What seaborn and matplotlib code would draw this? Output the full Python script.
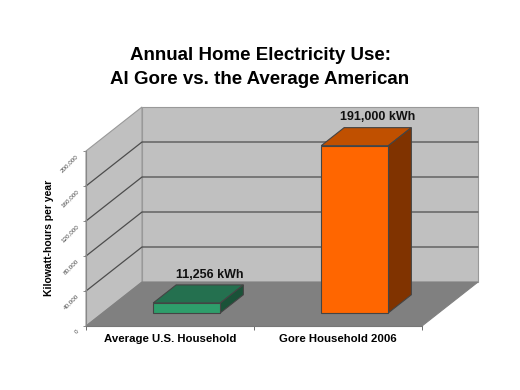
import matplotlib
matplotlib.use('Agg')
import matplotlib.pyplot as plt
import seaborn as sns
from matplotlib.patches import Polygon
from matplotlib.transforms import Affine2D

sns.set_theme(style='white')
plt.rcParams['font.family'] = ['Liberation Sans', 'DejaVu Sans']

categories = ['Average U.S. Household', 'Gore Household 2006']
kwh = [11256, 191000]
bar_labels = ['11,256 kWh', '191,000 kWh']
y_ticks = [0, 40000, 80000, 120000, 160000, 200000]
y_tick_labels = ['0', '40,000', '80,000', '120,000', '160,000', '200,000']

front_colors = ['#2e9e6b', '#ff6600']
top_colors = ['#24704f', '#c05000']
side_colors = ['#1a5238', '#803300']

W, H = 520, 390
fig = plt.figure(figsize=(W / 100, H / 100), dpi=100, facecolor='white')
# axes = the front plane of the fake 3d box
ax = fig.add_axes([86 / W, (H - 326) / H, 336 / W, 175 / H])
ax.patch.set_visible(False)


# depth goes from 0 (front) to 1 (back wall), shift is in data units
def dx(d):
    return d * 56 / 336 * 2


def dy(d):
    return d * 44 / 175 * 200000


def poly(pts, color, edge='#555555', lw=0.8, z=1):
    ax.add_patch(Polygon(pts, closed=True, facecolor=color, edgecolor=edge, linewidth=lw,
                         zorder=z, clip_on=False))


x0, x1 = -0.5, 1.5
top = y_ticks[-1]

# walls and floor
poly([(x0, 0), (x0, top), (x0 + dx(1), top + dy(1)), (x0 + dx(1), dy(1))], '#c0c0c0', '#999999')
poly([(x0 + dx(1), dy(1)), (x0 + dx(1), top + dy(1)), (x1 + dx(1), top + dy(1)), (x1 + dx(1), dy(1))],
     '#c0c0c0', '#999999')
poly([(x0, 0), (x1, 0), (x1 + dx(1), dy(1)), (x0 + dx(1), dy(1))], '#808080', '#808080')

# gridlines on left wall and back wall, the top one is just the wall edge
for t in y_ticks[1:-1]:
    ax.plot([x0, x0 + dx(1), x1 + dx(1)], [t, t + dy(1), t + dy(1)], color='#4d4d4d', lw=0.9,
            zorder=2, clip_on=False)

sns.barplot(x=categories, y=kwh, hue=categories, palette=front_colors, saturation=1, width=0.4,
            legend=False, edgecolor='#444444', linewidth=0.8, zorder=5, ax=ax)

ax.set_xlim(x0, x1)
ax.set_ylim(0, top)

# move bars back off the front edge and add top and side faces
front_d = 0.3
depth = 0.41
for i, cont in enumerate(ax.containers):
    bar = cont[0]
    bar.set_x(bar.get_x() + dx(front_d))
    bar.set_y(dy(front_d))
    bar.set_clip_on(False)
    l, r = bar.get_x(), bar.get_x() + bar.get_width()
    b, t = bar.get_y(), bar.get_y() + bar.get_height()
    poly([(l, t), (r, t), (r + dx(depth), t + dy(depth)), (l + dx(depth), t + dy(depth))],
         top_colors[i], '#444444', z=4)
    poly([(r, b), (r, t), (r + dx(depth), t + dy(depth)), (r + dx(depth), b + dy(depth))],
         side_colors[i], '#444444', z=4)
    ax.annotate(bar_labels[i], xy=((l + r) / 2 + dx(depth), t + dy(depth)), xytext=(0, 3),
                textcoords='offset points', ha='center', va='bottom', fontsize=9, fontweight='bold',
                color='#111111', zorder=6, annotation_clip=False)

sns.despine(ax=ax, top=True, right=True)
ax.spines['left'].set_color('#888888')
ax.spines['bottom'].set_color('#777777')
for s in ['left', 'bottom']:
    ax.spines[s].set_linewidth(0.8)
    ax.spines[s].set_zorder(3)

ax.set_yticks(y_ticks)
ax.set_yticklabels(y_tick_labels, rotation=45, rotation_mode='anchor', ha='right', va='center',
                   fontsize=4.5, color='#444444')
ax.tick_params(axis='y', length=2, width=0.6, color='#777777', pad=4, left=True)
for lab in ax.get_yticklabels():
    lab.set_transform(lab.get_transform() + Affine2D().translate(0, -4))
ax.set_xticks([-0.5, 0.5, 1.5], minor=True)
ax.tick_params(axis='x', which='minor', length=3, width=0.6, color='#555555', bottom=True)
ax.tick_params(axis='x', which='major', length=0, pad=6, labelsize=8.2, labelcolor='black')
for lab in ax.get_xticklabels():
    lab.set_fontweight('bold')

fig.text(49 / W, 1 - 238 / H, 'Kilowatt-hours per year', rotation=90, ha='center', va='center',
         fontsize=7.5, fontweight='bold', color='black')

fig.text(260 / W, 1 - 55 / H, 'Annual Home Electricity Use:', ha='center', va='center',
         fontsize=13.5, fontweight='bold', color='black')
fig.text(260 / W, 1 - 79.5 / H, 'Al Gore vs. the Average American', ha='center', va='center',
         fontsize=13.5, fontweight='bold', color='black')

fig.savefig('out.png', dpi=100, facecolor='white')
